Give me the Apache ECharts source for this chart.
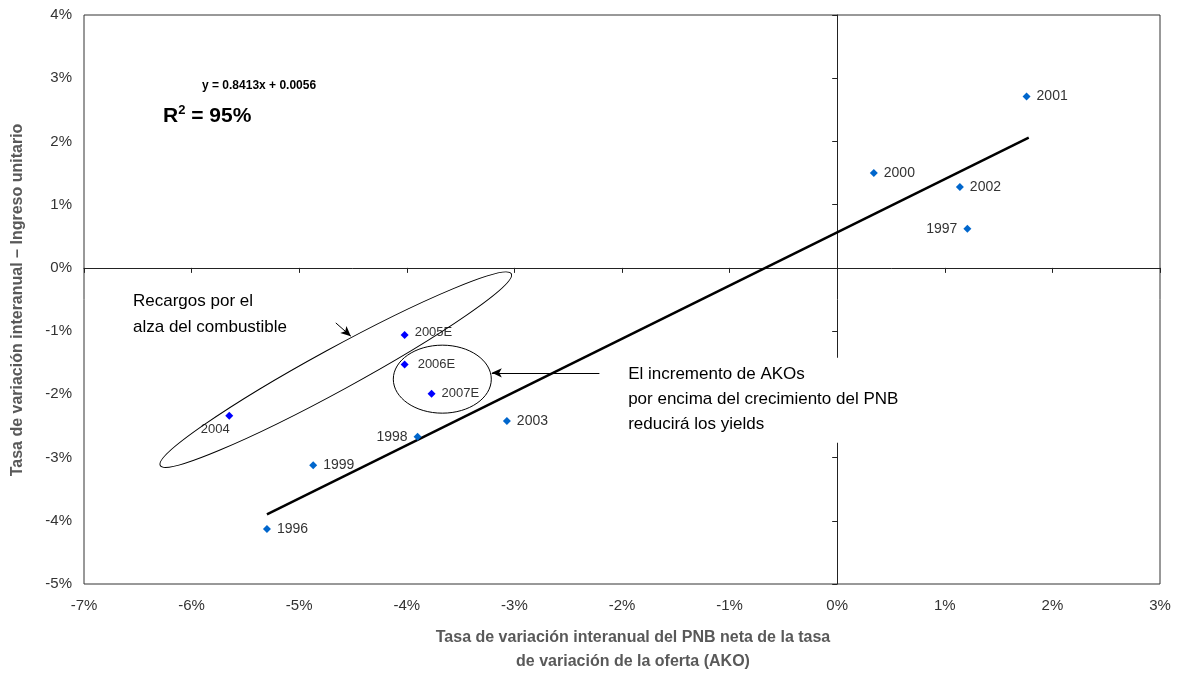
<!DOCTYPE html>
<html><head><meta charset="utf-8">
<script src="https://cdn.jsdelivr.net/npm/echarts@6/dist/echarts.min.js"></script>
<style>html,body{margin:0;padding:0;background:#fff}#c{width:1183px;height:673px}</style>
</head><body><div id="c"></div>
<script>
// Data (percent units)
const years = ['1996','1997','1998','1999','2000','2001','2002','2003','2004','2005E','2006E','2007E'];
const xVals = [-5.30, 1.21, -3.90, -4.87, 0.34, 1.76, 1.14, -3.07, -5.65, -4.02, -4.02, -3.77];
const yVals = [-4.13, 0.62, -2.67, -3.12, 1.50, 2.71, 1.28, -2.42, -2.34, -1.06, -1.53, -1.99];
const labelPos = ['right','left','left','right','right','right','right','right','bottom','right','right','right'];
const estimated = [false,false,false,false,false,false,false,false,true,true,true,true];
const trendX = [-5.30, 1.78];
const trendY = [-3.90, 2.06];
const xTicks = {min:-7, max:3, interval:1};
const yTicks = {min:-5, max:4, interval:1};

const FONT = 'Liberation Sans, Arial, sans-serif';
const chart = echarts.init(document.getElementById('c'));

const points = xVals.map((x,i)=>({
  value:[x, yVals[i], years[i]],
  itemStyle:{color: estimated[i] ? '#0000ff' : '#0066cc', opacity:1},
  label:{
    position: labelPos[i],
    distance: labelPos[i]==='bottom' ? 3 : (i===10 ? 9 : 6),
    offset: labelPos[i]==='bottom' ? [-14,0] : [0, i===9 ? -2 : 0],
    fontSize: estimated[i] ? 13 : 14
  }
}));

const option = {
  animation:false,
  backgroundColor:'#fff',
  grid:{left:84, right:23, top:15, bottom:89, show:true, borderColor:'#333', borderWidth:1, backgroundColor:'transparent'},
  xAxis:[
    {type:'value', min:xTicks.min, max:xTicks.max, interval:xTicks.interval, position:'bottom',
     axisLine:{show:false, onZero:false}, axisTick:{show:false}, splitLine:{show:false},
     axisLabel:{formatter:v=>v+'%', fontFamily:FONT, fontSize:15, color:'#333', margin:14}},
    {type:'value', min:xTicks.min, max:xTicks.max, interval:xTicks.interval, position:'top',
     axisLine:{show:true, onZero:true, lineStyle:{color:'#222', width:1}},
     axisTick:{show:true, inside:true, length:5, lineStyle:{color:'#222'}},
     axisLabel:{show:false}, splitLine:{show:false}}
  ],
  yAxis:[
    {type:'value', min:yTicks.min, max:yTicks.max, interval:yTicks.interval, position:'left',
     axisLine:{show:false, onZero:false}, axisTick:{show:false}, splitLine:{show:false},
     axisLabel:{formatter:v=>v+'%', fontFamily:FONT, fontSize:15, color:'#333', margin:12}},
    {type:'value', min:yTicks.min, max:yTicks.max, interval:yTicks.interval, position:'right',
     axisLine:{show:true, onZero:true, lineStyle:{color:'#222', width:1}},
     axisTick:{show:true, inside:true, length:5, lineStyle:{color:'#222'}},
     axisLabel:{show:false}, splitLine:{show:false}}
  ],
  series:[
    {type:'line', data:trendX.map((x,i)=>[x,trendY[i]]), symbol:'none', z:3,
     lineStyle:{color:'#000', width:2.5}, silent:true,
     markLine:{silent:true, symbol:['none','arrow'], symbolSize:[7,10], label:{show:false},
       lineStyle:{color:'#000', width:1, type:'solid'},
       data:[
         [{coord:[-4.66,-0.87]},{coord:[-4.52,-1.08]}],
         [{coord:[-2.21,-1.66]},{coord:[-3.21,-1.66]}]
       ]}},
    {type:'scatter', data:points, symbol:'diamond', symbolSize:8, z:5,
     label:{show:true, formatter:p=>p.value[2], fontFamily:FONT, color:'#333'}}
  ]
};
chart.setOption(option);

function px(x,y){ return chart.convertToPixel({xAxisIndex:0, yAxisIndex:0},[x,y]); }
const bigC = px(-4.66,-1.61);
const smallC = px(-3.67,-1.76);
const noteP = px(-1.98,-1.42);

chart.setOption({graphic:[
  {type:'ellipse', x:bigC[0], y:bigC[1], rotation:0.50, shape:{cx:0, cy:0, rx:200, ry:21},
   style:{fill:'none', stroke:'#000', lineWidth:1}, z:10},
  {type:'ellipse', x:smallC[0], y:smallC[1], shape:{cx:0, cy:0, rx:49, ry:34},
   style:{fill:'none', stroke:'#000', lineWidth:1}, z:10},
  {type:'text', x:202, y:80, style:{text:'y = 0.8413x + 0.0056', font:'bold 12px '+FONT, fill:'#000'}, z:10},
  {type:'text', x:163, y:104, z:10,
   style:{text:'{a|R}{s|2}{a| = 95%}', rich:{a:{font:'bold 21px '+FONT, fill:'#000', verticalAlign:'bottom'}, s:{font:'bold 13px '+FONT, fill:'#000', verticalAlign:'top', padding:[0,0,10,0]}}}},
  {type:'text', x:133, y:288, z:10, style:{text:'Recargos por el\nalza del combustible', font:'17px '+FONT, fill:'#000', lineHeight:26}},
  {type:'text', x:noteP[0], y:noteP[1], z:10, style:{text:'El incremento de AKOs\npor encima del crecimiento del PNB\nreducirá los yields', font:'17px '+FONT, fill:'#000', lineHeight:25, backgroundColor:'#fff', padding:[4,4,6,4]}},
  {type:'text', x:633, y:626, z:10, style:{text:'Tasa de variación interanual del PNB neta de la tasa\nde variación de la oferta (AKO)', font:'bold 16px '+FONT, fill:'#595959', align:'center', lineHeight:24}},
  {type:'text', x:18, y:300, rotation:Math.PI/2, z:10, style:{text:'Tasa de variación interanual – Ingreso unitario', font:'bold 16px '+FONT, fill:'#595959', align:'center', verticalAlign:'middle'}}
]});
</script></body></html>
